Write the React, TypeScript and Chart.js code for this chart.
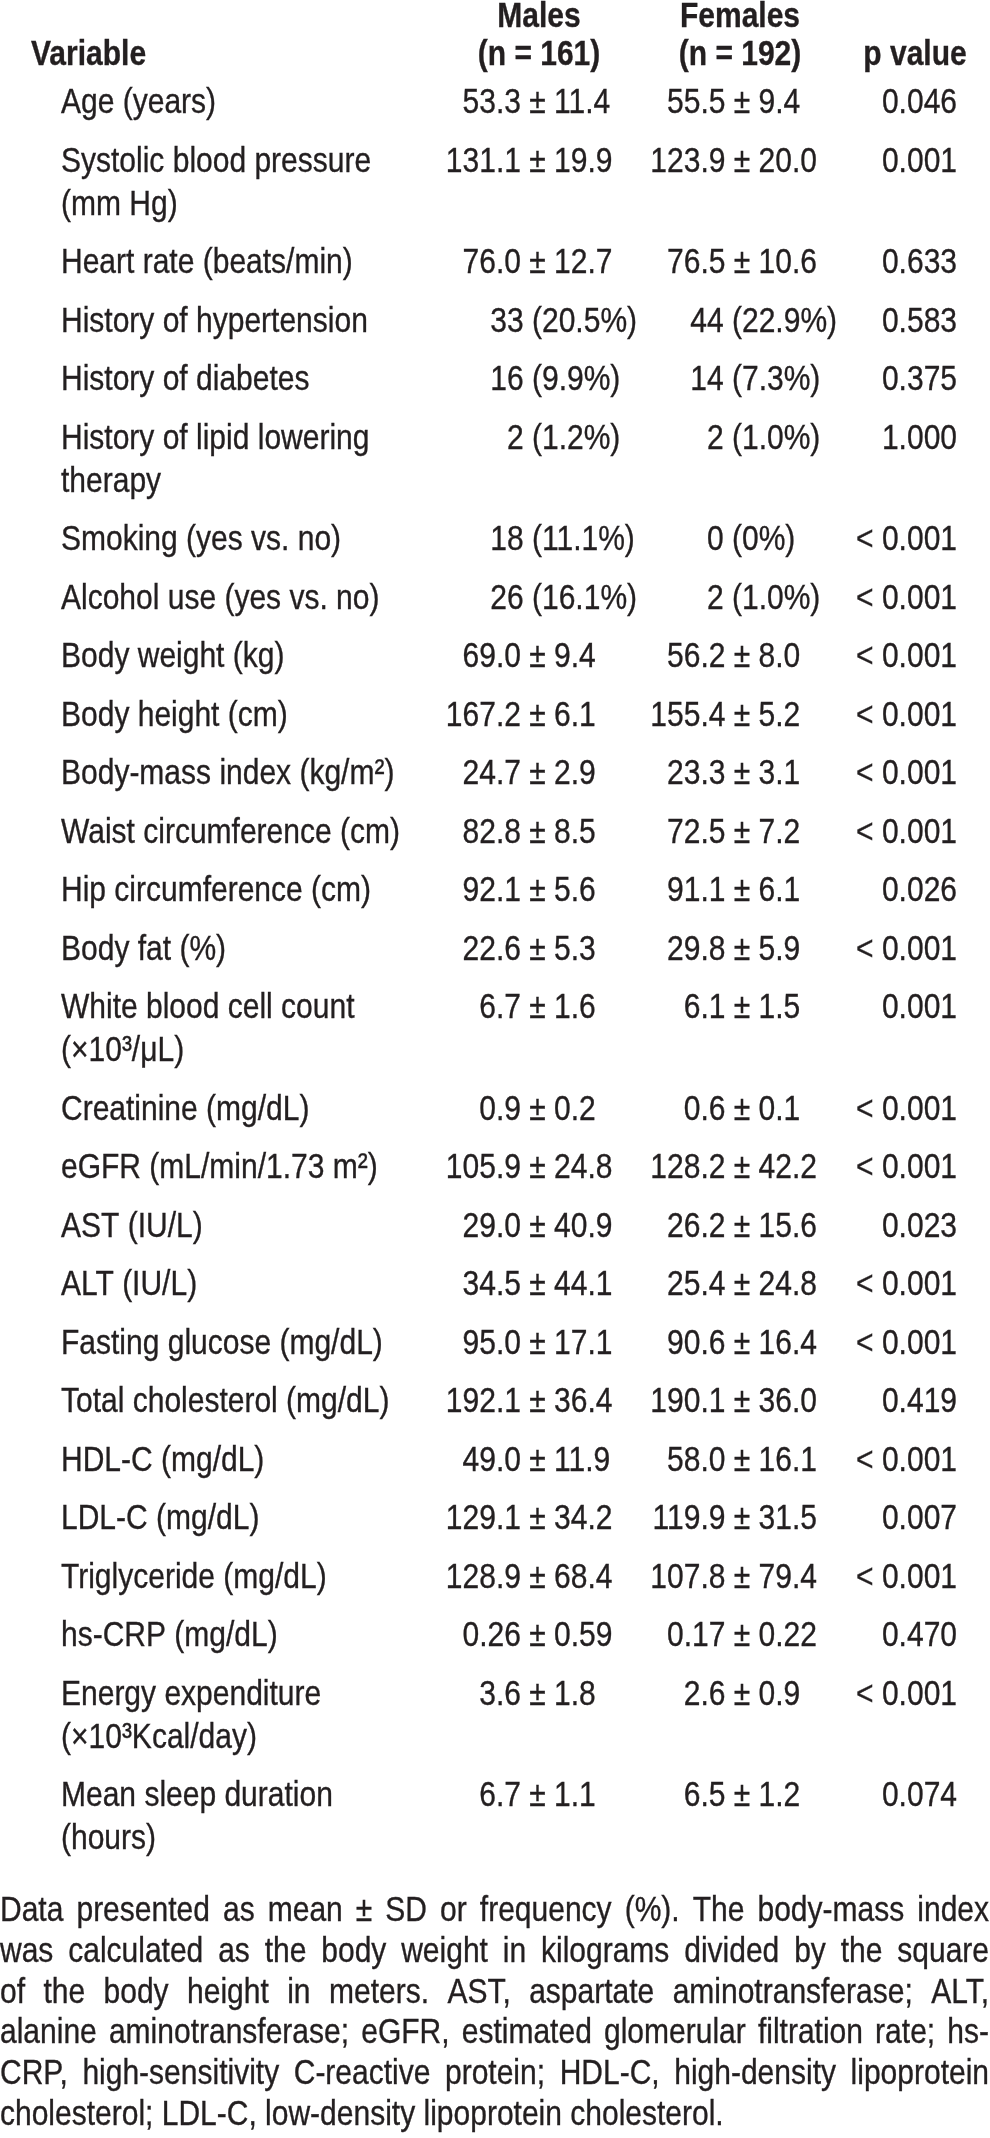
import React, { useEffect, useRef } from "react";
import { Chart, registerables } from "chart.js";

Chart.register(...registerables);

// ---------------- DATA ----------------
const headerTop = ["", "Males", "Females", ""];
const headerBottom = ["Variable", "(n = 161)", "(n = 192)", "p value"];

const variables = [
  "Age (years)",
  "Systolic blood pressure\n(mm Hg)",
  "Heart rate (beats/min)",
  "History of hypertension",
  "History of diabetes",
  "History of lipid lowering\ntherapy",
  "Smoking (yes vs. no)",
  "Alcohol use (yes vs. no)",
  "Body weight (kg)",
  "Body height (cm)",
  "Body-mass index (kg/m²)",
  "Waist circumference (cm)",
  "Hip circumference (cm)",
  "Body fat (%)",
  "White blood cell count\n(×10³/μL)",
  "Creatinine (mg/dL)",
  "eGFR (mL/min/1.73 m²)",
  "AST (IU/L)",
  "ALT (IU/L)",
  "Fasting glucose (mg/dL)",
  "Total cholesterol (mg/dL)",
  "HDL-C (mg/dL)",
  "LDL-C (mg/dL)",
  "Triglyceride (mg/dL)",
  "hs-CRP (mg/dL)",
  "Energy expenditure\n(×10³Kcal/day)",
  "Mean sleep duration\n(hours)",
];

const males = [
  "53.3 ± 11.4",
  "131.1 ± 19.9",
  "76.0 ± 12.7",
  "33 (20.5%)",
  "16 (9.9%)",
  "2 (1.2%)",
  "18 (11.1%)",
  "26 (16.1%)",
  "69.0 ± 9.4",
  "167.2 ± 6.1",
  "24.7 ± 2.9",
  "82.8 ± 8.5",
  "92.1 ± 5.6",
  "22.6 ± 5.3",
  "6.7 ± 1.6",
  "0.9 ± 0.2",
  "105.9 ± 24.8",
  "29.0 ± 40.9",
  "34.5 ± 44.1",
  "95.0 ± 17.1",
  "192.1 ± 36.4",
  "49.0 ± 11.9",
  "129.1 ± 34.2",
  "128.9 ± 68.4",
  "0.26 ± 0.59",
  "3.6 ± 1.8",
  "6.7 ± 1.1",
];

const females = [
  "55.5 ± 9.4",
  "123.9 ± 20.0",
  "76.5 ± 10.6",
  "44 (22.9%)",
  "14 (7.3%)",
  "2 (1.0%)",
  "0 (0%)",
  "2 (1.0%)",
  "56.2 ± 8.0",
  "155.4 ± 5.2",
  "23.3 ± 3.1",
  "72.5 ± 7.2",
  "91.1 ± 6.1",
  "29.8 ± 5.9",
  "6.1 ± 1.5",
  "0.6 ± 0.1",
  "128.2 ± 42.2",
  "26.2 ± 15.6",
  "25.4 ± 24.8",
  "90.6 ± 16.4",
  "190.1 ± 36.0",
  "58.0 ± 16.1",
  "119.9 ± 31.5",
  "107.8 ± 79.4",
  "0.17 ± 0.22",
  "2.6 ± 0.9",
  "6.5 ± 1.2",
];

const pValues = [
  "0.046",
  "0.001",
  "0.633",
  "0.583",
  "0.375",
  "1.000",
  "< 0.001",
  "< 0.001",
  "< 0.001",
  "< 0.001",
  "< 0.001",
  "< 0.001",
  "0.026",
  "< 0.001",
  "0.001",
  "< 0.001",
  "< 0.001",
  "0.023",
  "< 0.001",
  "< 0.001",
  "0.419",
  "< 0.001",
  "0.007",
  "< 0.001",
  "0.470",
  "< 0.001",
  "0.074",
];

const footnoteLines = [
  "Data presented as mean ± SD or frequency (%). The body-mass index",
  "was calculated as the body weight in kilograms divided by the square",
  "of the body height in meters. AST, aspartate aminotransferase; ALT,",
  "alanine aminotransferase; eGFR, estimated glomerular filtration rate; hs-",
  "CRP, high-sensitivity C-reactive protein; HDL-C, high-density lipoprotein",
  "cholesterol; LDL-C, low-density lipoprotein cholesterol.",
];

// ---------------- LAYOUT (pixels in a 990 x 2138 coordinate space) ----------------
const W = 990;
const H = 2138;
const FONT_FAMILY = "'Liberation Sans', Arial, Helvetica, sans-serif";
const FONT_SIZE = 35; // vertical size
const H_SCALE = 30 / 35; // horizontal condensing (narrow typeface look)
const TEXT_COLOR = "#231f20";
const STROKE = 0.35;

const LAYOUT = {
  varHeadX: 31,
  labelX: 61,
  malePmX: 537.5,
  maleParenX: 532,
  femPmX: 742,
  femParenX: 732,
  pRightX: 957,
  maleHeadX: 539,
  femHeadX: 740,
  pHeadX: 915,
  headY1: 27,
  headY2: 65,
  firstRowY: 113,
  rowPitch: 58.5,
  wrapPitch: 43,
  footY: 1921,
  footPitch: 40.8,
  footLeft: 0,
  footRight: 989,
};

function computeRowBaselines(): number[] {
  const ys: number[] = [];
  let y = LAYOUT.firstRowY;
  variables.forEach((v) => {
    ys.push(y);
    const lines = v.split("\n").length;
    y += (lines - 1) * LAYOUT.wrapPitch + LAYOUT.rowPitch;
  });
  return ys;
}

function tw(ctx: CanvasRenderingContext2D, s: string) {
  return ctx.measureText(s).width * H_SCALE;
}

function drawText(ctx: CanvasRenderingContext2D, s: string, x: number, y: number, align: "left" | "center" | "right") {
  const w = tw(ctx, s);
  let sx = x;
  if (align === "center") sx = x - w / 2;
  else if (align === "right") sx = x - w;
  ctx.save();
  ctx.translate(sx, y);
  ctx.scale(H_SCALE, 1);
  ctx.textAlign = "left";
  ctx.fillText(s, 0, 0);
  if (STROKE > 0) ctx.strokeText(s, 0, 0);
  ctx.restore();
}

const tablePlugin = {
  id: "tableText",
  afterDatasetsDraw(chart: any) {
    const ctx: CanvasRenderingContext2D = chart.ctx;
    const xs = chart.scales.x;
    const ys = chart.scales.y;
    const regular = `${FONT_SIZE}px ${FONT_FAMILY}`;
    const bold = `bold ${FONT_SIZE}px ${FONT_FAMILY}`;
    ctx.save();
    ctx.fillStyle = TEXT_COLOR;
    ctx.strokeStyle = TEXT_COLOR;
    ctx.lineWidth = STROKE;
    ctx.textBaseline = "alphabetic";

    // Header
    ctx.font = bold;
    drawText(ctx, headerBottom[0], xs.getPixelForValue(LAYOUT.varHeadX), ys.getPixelForValue(LAYOUT.headY2), "left");
    const headXs = [0, LAYOUT.maleHeadX, LAYOUT.femHeadX, LAYOUT.pHeadX];
    for (let c = 1; c < 4; c++) {
      const hx = xs.getPixelForValue(headXs[c]);
      if (headerTop[c]) drawText(ctx, headerTop[c], hx, ys.getPixelForValue(LAYOUT.headY1), "center");
      drawText(ctx, headerBottom[c], hx, ys.getPixelForValue(LAYOUT.headY2), "center");
    }

    // Cells via dataset elements
    ctx.font = regular;
    const cols = [variables, males, females, pValues];
    cols.forEach((col, d) => {
      const meta = chart.getDatasetMeta(d);
      meta.data.forEach((el: any, i: number) => {
        const text = col[i];
        const x = el.x;
        const y = el.y;
        if (d === 0) {
          text.split("\n").forEach((line: string, k: number) => {
            drawText(ctx, line, x, y + k * LAYOUT.wrapPitch, "left");
          });
        } else if (d === 3) {
          drawText(ctx, text, x, y, "right");
        } else if (text.includes("±")) {
          const left = text.split("±")[0];
          drawText(ctx, text, x - tw(ctx, left) - tw(ctx, "±") / 2, y, "left");
        } else {
          const left = text.split("(")[0];
          drawText(ctx, text, x - tw(ctx, left), y, "left");
        }
      });
    });

    // Footnote (justified)
    ctx.font = regular;
    const fl = xs.getPixelForValue(LAYOUT.footLeft);
    const fr = xs.getPixelForValue(LAYOUT.footRight);
    footnoteLines.forEach((line, k) => {
      const y = ys.getPixelForValue(LAYOUT.footY + k * LAYOUT.footPitch);
      if (k === footnoteLines.length - 1) {
        drawText(ctx, line, fl, y, "left");
        return;
      }
      const words = line.split(" ");
      const total = words.reduce((s, w) => s + tw(ctx, w), 0);
      const gap = (fr - fl - total) / (words.length - 1);
      let cx = fl;
      words.forEach((w) => {
        drawText(ctx, w, cx, y, "left");
        cx += tw(ctx, w) + gap;
      });
    });
    ctx.restore();
  },
};

export default function App() {
  const canvasRef = useRef<HTMLCanvasElement | null>(null);

  useEffect(() => {
    document.body.style.margin = "0";
    const canvas = canvasRef.current;
    if (!canvas) return;
    const rowY = computeRowBaselines();
    const pointStyle = { pointRadius: 0, pointHoverRadius: 0, showLine: false };
    const chart = new Chart(canvas, {
      type: "scatter",
      data: {
        datasets: [
          { label: "Variable", data: rowY.map((y) => ({ x: LAYOUT.labelX, y })), ...pointStyle },
          {
            label: "Males",
            data: rowY.map((y, i) => ({ x: males[i].includes("±") ? LAYOUT.malePmX : LAYOUT.maleParenX, y })),
            ...pointStyle,
          },
          {
            label: "Females",
            data: rowY.map((y, i) => ({ x: females[i].includes("±") ? LAYOUT.femPmX : LAYOUT.femParenX, y })),
            ...pointStyle,
          },
          { label: "p value", data: rowY.map((y) => ({ x: LAYOUT.pRightX, y })), ...pointStyle },
        ],
      },
      options: {
        animation: false,
        responsive: false,
        devicePixelRatio: 1,
        layout: { padding: 0 },
        events: [],
        plugins: { legend: { display: false }, tooltip: { enabled: false }, title: { display: false } },
        scales: {
          x: { type: "linear", min: 0, max: W, display: false },
          y: { type: "linear", min: 0, max: H, reverse: true, display: false },
        },
      },
      plugins: [tablePlugin],
    });
    return () => chart.destroy();
  }, []);

  return (
    <div style={{ width: W, height: H, background: "#fff" }}>
      <canvas ref={canvasRef} width={W} height={H} style={{ display: "block", width: W, height: H }} />
    </div>
  );
}
